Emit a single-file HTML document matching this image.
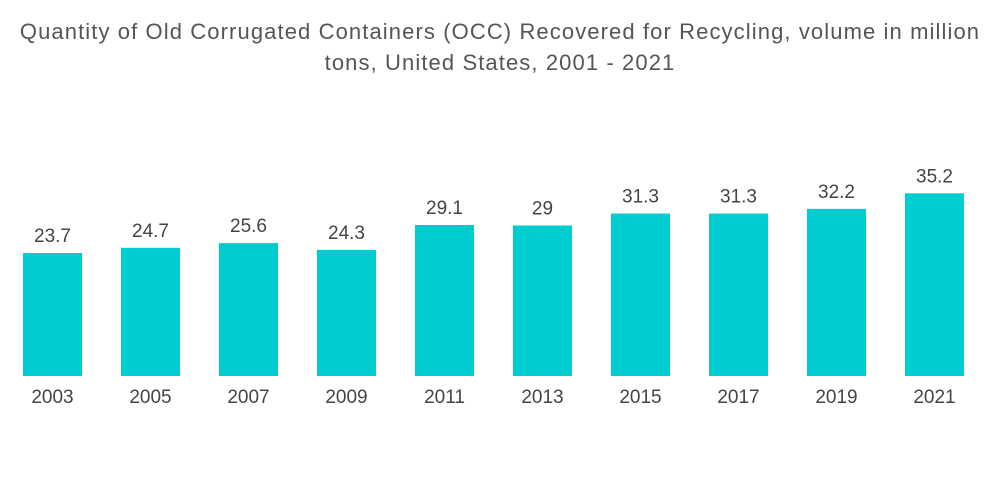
<!DOCTYPE html>
<html><head><meta charset="utf-8"><style>
body{margin:0;background:#fff;width:1000px;height:504px;overflow:hidden;font-family:"Liberation Sans",sans-serif}
#title{position:absolute;left:0;top:16px;width:1000px;text-align:center;font-size:22px;letter-spacing:1.1px;line-height:31px;color:#555}
</style></head><body>
<div id="title">Quantity of Old Corrugated Containers (OCC) Recovered for Recycling, volume in million<br>tons, United States, 2001 - 2021</div>
<svg id="chart" width="1000" height="504" style="position:absolute;left:0;top:0"></svg>
<script>
const categories=["2003","2005","2007","2009","2011","2013","2015","2017","2019","2021"];
const values=[23.7,24.7,25.6,24.3,29.1,29,31.3,31.3,32.2,35.2];
const labels=["23.7","24.7","25.6","24.3","29.1","29","31.3","31.3","32.2","35.2"];
const svg=document.getElementById('chart');
const NS='http://www.w3.org/2000/svg';
const base=376,k=5.19,x0=23,step=98,bw=59;
function xs(i){return x0+i*step;}
function ys(v){return base-v*k;}
categories.forEach((c,i)=>{
  const r=document.createElementNS(NS,'rect');
  
  
  r.setAttribute('x',xs(i));r.setAttribute('y',ys(values[i]));
  r.setAttribute('width',bw);r.setAttribute('height',base-ys(values[i]));
  r.setAttribute('fill','#00cccf');svg.appendChild(r);
  const t=document.createElementNS(NS,'text');
  
  
  t.setAttribute('x',xs(i)+bw/2);t.setAttribute('y',ys(values[i])-11);
  t.setAttribute('text-anchor','middle');t.setAttribute('font-size','19');t.setAttribute('fill','#444');
  t.textContent=labels[i];svg.appendChild(t);
  const a=document.createElementNS(NS,'text');
  
  
  a.setAttribute('x',xs(i)+bw/2);a.setAttribute('y',403);
  a.setAttribute('text-anchor','middle');a.setAttribute('font-size','19');a.setAttribute('fill','#444');
  a.textContent=c;svg.appendChild(a);
});
</script>
</body></html>
